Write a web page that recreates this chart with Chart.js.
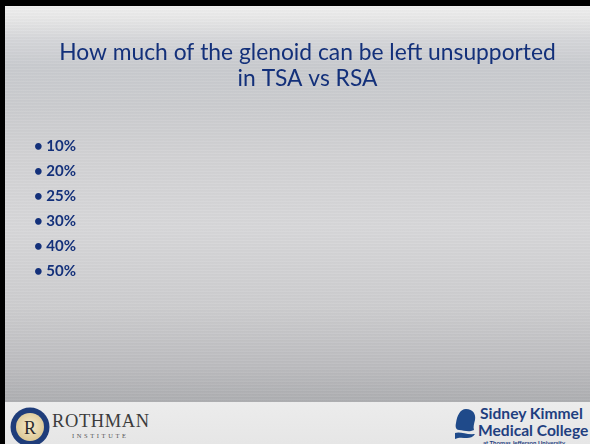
<!DOCTYPE html>
<html>
<head>
<meta charset="utf-8">
<script src="https://cdn.jsdelivr.net/npm/chart.js@4.4.1/dist/chart.umd.min.js"></script>
<style>
  html, body { margin: 0; padding: 0; }
  body { width: 590px; height: 444px; overflow: hidden; background: #000; position: relative; font-family: "Open Sans", sans-serif; }
  #slide { position: absolute; left: 5px; top: 6px; width: 585px; height: 438px; overflow: hidden; }
  #main { position: absolute; left: 0; top: 0; width: 585px; height: 396px;
    background:
      repeating-linear-gradient(to bottom, rgba(255,255,255,0.10) 0px, rgba(255,255,255,0.0) 1px, rgba(0,0,0,0.03) 2px, rgba(255,255,255,0.06) 3px),
      linear-gradient(to bottom, #efefef 0px, #e8e8e8 12px, #d6d7da 32px, #c9cbcf 60px, #cbcccf 100px, #d2d2d4 150px, #d7d7d9 220px, #cdcdcf 300px, #bcbcbf 360px, #adaeb1 396px); }
  #footer { position: absolute; left: 0; top: 396px; width: 585px; height: 42px;
    background: linear-gradient(to bottom, #ececec, #e6e6e6); }
  #chartbox { position: absolute; left: 0; top: 0; width: 590px; height: 444px; }
  .rl { position: absolute; white-space: nowrap; }
</style>
</head>
<body>
<div id="slide">
  <div id="main"></div>
  <div id="footer">
    <!-- Rothman logo -->
    <svg class="rl" style="left:5px; top:5px" width="40" height="40" viewBox="0 0 40 40">
      <defs>
        <radialGradient id="rg" cx="50%" cy="45%" r="55%">
          <stop offset="0%" stop-color="#f5ebcd"/>
          <stop offset="100%" stop-color="#dcc895"/>
        </radialGradient>
      </defs>
      <circle cx="20" cy="20" r="19.5" fill="#1f3d7a"/>
      <circle cx="20" cy="20" r="14" fill="url(#rg)"/>
      <text x="20" y="26.5" text-anchor="middle" font-family="Liberation Serif, serif" font-size="18" fill="#2b2b2b">R</text>
    </svg>
    <div class="rl" style="left:47px; top:10px; font-family:'Liberation Serif', serif; font-size:18.5px; color:#3c3c3c; letter-spacing:0.6px; line-height:1;">ROTHMAN</div>
    <div class="rl" style="left:67px; top:31px; font-family:'Liberation Serif', serif; font-size:6.5px; color:#555; letter-spacing:2.6px; line-height:1;">INSTITUTE</div>
    <!-- Sidney Kimmel logo -->
    <svg class="rl" style="left:448px; top:6px" width="26" height="34" viewBox="0 0 26 34">
      <path d="M13 1 C20 1 23 6 22 12 C21 16 20 19 21 22 L18 23 C14 24 10 22 6 22 C3 22 2 19 3 15 C4 8 7 1 13 1 Z" fill="#1f4a8a"/>
      <path d="M2 25 C7 23 13 27 22 26 C20 29 17 30 14 30 C10 30 6 29 2 31 Z" fill="#1f4a8a"/>
    </svg>
    <div class="rl" style="left:475px; top:4px; font-family:Lato, sans-serif; font-weight:700; font-size:15.6px; color:#1f3f80; line-height:1;">Sidney Kimmel</div>
    <div class="rl" style="left:473px; top:21px; font-family:Lato, sans-serif; font-weight:700; font-size:15.6px; color:#1f3f80; line-height:1;">Medical College</div>
    <div class="rl" style="left:478px; top:38px; font-family:Lato, sans-serif; font-weight:700; font-size:6px; color:#1f3f80; line-height:1;">at Thomas Jefferson University</div>
  </div>
</div>
<div id="chartbox"><canvas id="c"></canvas></div>
<script>
const titleLines = ["How much of the glenoid can be left unsupported", "in TSA vs RSA"];
const categories = ["10%", "20%", "25%", "30%", "40%", "50%"];
const responses = [0, 0, 0, 0, 0, 0];

const navy = "#13307a";
new Chart(document.getElementById("c"), {
  type: "bar",
  data: {
    labels: categories,
    datasets: [{ data: responses, backgroundColor: navy, borderWidth: 0 }]
  },
  options: {
    indexAxis: "y",
    responsive: true,
    maintainAspectRatio: false,
    animation: false,
    devicePixelRatio: 1,
    layout: { padding: { top: 6, left: 34, right: 9, bottom: 160.5 } },
    plugins: {
      legend: { display: false },
      tooltip: { enabled: false },
      title: {
        display: true,
        text: titleLines,
        color: navy,
        font: { family: "Lato, 'Open Sans', sans-serif", size: 22.8, weight: "normal", lineHeight: 1.14 },
        padding: { top: 34, bottom: 42 }
      }
    },
    scales: {
      x: { display: false, min: 0, max: 100 },
      y: {
        position: "left",
        grid: { display: false, drawBorder: false },
        border: { display: false },
        ticks: {
          crossAlign: "far",
          color: navy,
          padding: 0,
          font: { family: "Lato, 'Open Sans', sans-serif", size: 15, weight: "bold" },
          callback: function (v, i) { return "\u2022 " + categories[i]; }
        }
      }
    }
  }
});
</script>
</body>
</html>
